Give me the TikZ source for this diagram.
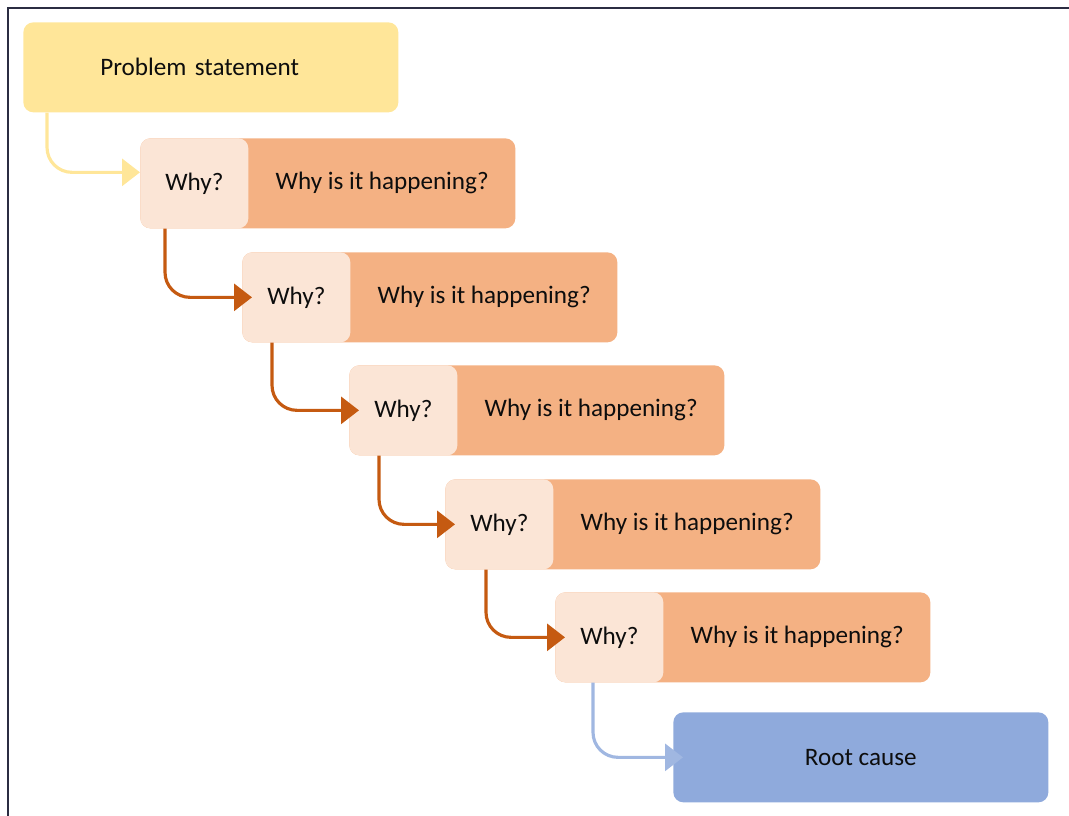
\documentclass[tikz,border=0pt]{standalone}
\usepackage{fontspec}
\setmainfont{Carlito}
\usetikzlibrary{arrows.meta,calc}
\definecolor{probyellow}{HTML}{FFE699}
\definecolor{whylight}{HTML}{FBE5D6}
\definecolor{whyorange}{HTML}{F4B183}
\definecolor{linkorange}{HTML}{C55A11}
\definecolor{rootblue}{HTML}{8FAADC}
\definecolor{framenavy}{HTML}{2B2D42}
\begin{document}
\begin{tikzpicture}[
    txt/.style={font=\fontsize{14.3}{17}\selectfont, text=black!95},
    box/.style={txt, rounded corners=0.2cm, minimum width=7.5cm, minimum height=1.8cm, inner sep=0pt},
    whytag/.style={box, fill=whylight, minimum width=2.16cm},
    link/.style={line width=1.8pt, rounded corners=0.5cm, -{Triangle[length=0.36cm,width=0.54cm]}, shorten >=-0.2cm}]
  \useasboundingbox (0,0) rectangle (21.38,-16.32);
  \draw[framenavy, line width=1.6pt] (0.16,-16.32) -- (0.16,-0.16) -- (21.38,-0.16);
  \node[box, fill=probyellow, anchor=north west, text width=4.42cm, inner xsep=1.54cm, align=left] (prob) at (0.46,-0.44) {Problem statement};
  \foreach \i/\x/\y in {1/2.8/2.76, 2/4.84/5.04, 3/6.98/7.3, 4/8.9/9.58, 5/11.1/11.84} {
    \node[box, fill=whyorange, anchor=north west] (w\i) at (\x,-\y) {};
    \node[whytag, anchor=west] (q\i) at (w\i.west) {Why?};
    \node[txt] (t\i) at ($(q\i.east)!.5!(w\i.east)$) {Why is it happening?};
  }
  \node[box, fill=rootblue, anchor=north west] (root) at (13.46,-14.24) {Root cause};
  % connectors
  \draw[link, probyellow, shorten >=0pt] ([xshift=0.48cm]prob.south west) |- ([yshift=0.22cm]q1.west);
  \foreach \i/\j/\d in {1/2/0.5, 2/3/0.6, 3/4/0.6, 4/5/0.82}
    \draw[link, linkorange] ([xshift=\d cm]q\i.south west) |- (q\j.west);
  \draw[link, rootblue!85!white] ([xshift=0.76cm]q5.south west) |- (root.west);
\end{tikzpicture}
\end{document}
